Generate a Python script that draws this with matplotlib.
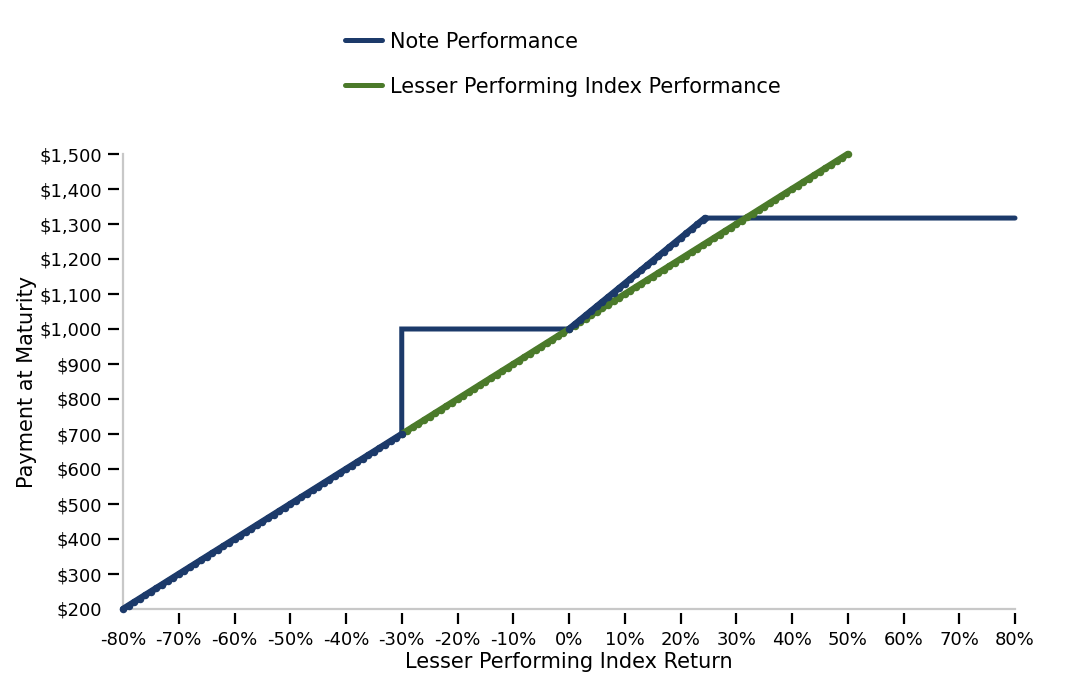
import matplotlib
matplotlib.use("Agg")
import matplotlib.pyplot as plt
from matplotlib.lines import Line2D

# ---- data ----
note_x = [-80, -79, -78, -77, -76, -75, -74, -73, -72, -71,
          -70, -69, -68, -67, -66, -65, -64, -63, -62, -61,
          -60, -59, -58, -57, -56, -55, -54, -53, -52, -51,
          -50, -49, -48, -47, -46, -45, -44, -43, -42, -41,
          -40, -39, -38, -37, -36, -35, -34, -33, -32, -31,
          -30, -30, 0,
          1, 2, 3, 4, 5, 6, 7, 8, 9, 10, 11, 12,
          13, 14, 15, 16, 17, 18, 19, 20, 21, 22, 23, 24,
          24.4, 80]
note_y = [200, 210, 220, 230, 240, 250, 260, 270, 280, 290,
          300, 310, 320, 330, 340, 350, 360, 370, 380, 390,
          400, 410, 420, 430, 440, 450, 460, 470, 480, 490,
          500, 510, 520, 530, 540, 550, 560, 570, 580, 590,
          600, 610, 620, 630, 640, 650, 660, 670, 680, 690,
          700, 1000, 1000,
          1013, 1026, 1039, 1052, 1065, 1078, 1091, 1104, 1117, 1130, 1143, 1156,
          1169, 1182, 1195, 1208, 1221, 1234, 1247, 1260, 1273, 1286, 1299, 1312,
          1317, 1317]

index_x = [-30, -29, -28, -27, -26, -25, -24, -23, -22, -21,
           -20, -19, -18, -17, -16, -15, -14, -13, -12, -11,
           -10, -9, -8, -7, -6, -5, -4, -3, -2, -1,
           0, 1, 2, 3, 4, 5, 6, 7, 8, 9,
           10, 11, 12, 13, 14, 15, 16, 17, 18, 19,
           20, 21, 22, 23, 24, 25, 26, 27, 28, 29,
           30, 31, 32, 33, 34, 35, 36, 37, 38, 39,
           40, 41, 42, 43, 44, 45, 46, 47, 48, 49, 50]
index_y = [700, 710, 720, 730, 740, 750, 760, 770, 780, 790,
           800, 810, 820, 830, 840, 850, 860, 870, 880, 890,
           900, 910, 920, 930, 940, 950, 960, 970, 980, 990,
           1000, 1010, 1020, 1030, 1040, 1050, 1060, 1070, 1080, 1090,
           1100, 1110, 1120, 1130, 1140, 1150, 1160, 1170, 1180, 1190,
           1200, 1210, 1220, 1230, 1240, 1250, 1260, 1270, 1280, 1290,
           1300, 1310, 1320, 1330, 1340, 1350, 1360, 1370, 1380, 1390,
           1400, 1410, 1420, 1430, 1440, 1450, 1460, 1470, 1480, 1490, 1500]

x_ticks = [-80, -70, -60, -50, -40, -30, -20, -10, 0, 10, 20, 30, 40, 50, 60, 70, 80]
x_tick_labels = ["-80%", "-70%", "-60%", "-50%", "-40%", "-30%", "-20%", "-10%", "0%",
                 "10%", "20%", "30%", "40%", "50%", "60%", "70%", "80%"]
y_ticks = [200, 300, 400, 500, 600, 700, 800, 900, 1000, 1100, 1200, 1300, 1400, 1500]
y_tick_labels = ["$200", "$300", "$400", "$500", "$600", "$700", "$800", "$900",
                 "$1,000", "$1,100", "$1,200", "$1,300", "$1,400", "$1,500"]

series_labels = ["Note Performance", "Lesser Performing Index Performance"]

# ---- styling ----
BLUE = "#1c3a6a"
GREEN = "#4b7a2a"
LW = 3.6        # flat segments
LW_S = 4.6      # sloped segments
MS = 5.4

fig = plt.figure(figsize=(10.88, 6.88), dpi=100)
ax = fig.add_axes([123 / 1088, 1 - 609 / 688, (1015 - 123) / 1088, (609 - 154) / 688])
ax.set_xlim(-80, 80)
ax.set_ylim(200, 1500)

# note line (flat parts, no markers)
ax.plot(note_x, note_y, color=BLUE, lw=LW, solid_joinstyle="miter",
        solid_capstyle="round", clip_on=False, zorder=3)
# index line with markers
ax.plot(index_x, index_y, color=GREEN, lw=LW_S, marker="o", ms=MS, mew=0,
        solid_capstyle="round", clip_on=False, zorder=4)
# note markers on sloped parts
seg1 = list(range(0, 51))
seg2 = list(range(52, 78))
for seg in (seg1, seg2):
    ax.plot([note_x[i] for i in seg], [note_y[i] for i in seg],
            color=BLUE, lw=LW_S, marker="o", ms=MS, mew=0,
            solid_capstyle="round", clip_on=False, zorder=5)

# spines: hidden, replaced by gray lines; ticks offset outward
for s in ax.spines.values():
    s.set_visible(False)
ax.spines["left"].set_position(("outward", 3))
ax.spines["bottom"].set_position(("outward", 3))
ax.plot([0, 0], [0, 1], transform=ax.transAxes, color="#c8c8c8", lw=1.6,
        clip_on=False, zorder=1)
ax.plot([0, 1], [0, 0], transform=ax.transAxes, color="#c8c8c8", lw=1.6,
        clip_on=False, zorder=1)

ax.set_xticks(x_ticks)
ax.set_xticklabels(x_tick_labels)
ax.set_yticks(y_ticks)
ax.set_yticklabels(y_tick_labels)
ax.tick_params(axis="both", direction="out", length=7.8, width=1.6, color="black",
               labelsize=13, top=False, right=False)
ax.tick_params(axis="x", pad=5)
ax.tick_params(axis="y", pad=4.5)
ax.xaxis.get_major_ticks()[0].tick1line.set_visible(False)
ax.yaxis.get_major_ticks()[0].tick1line.set_visible(False)

ax.set_xlabel("Lesser Performing Index Return", fontsize=15)
ax.set_ylabel("Payment at Maturity", fontsize=15)
ax.xaxis.set_label_coords(0.5, (609 - 662) / 455)
ax.xaxis.label.set_va("center")
ax.yaxis.set_label_coords((27 - 123) / 892, 0.5)
ax.yaxis.label.set_va("center")

handles = [Line2D([0], [0], color=BLUE, lw=LW, solid_capstyle="round"),
           Line2D([0], [0], color=GREEN, lw=LW, solid_capstyle="round")]
fig.legend(handles, series_labels, loc="upper left",
           bbox_to_anchor=(345 / 1088, 1 - 31.5 / 688), frameon=False,
           fontsize=15, handlelength=1.78, handletextpad=0.38, labelspacing=1.21,
           borderaxespad=0, borderpad=0)

fig.savefig("out.png", dpi=100)
